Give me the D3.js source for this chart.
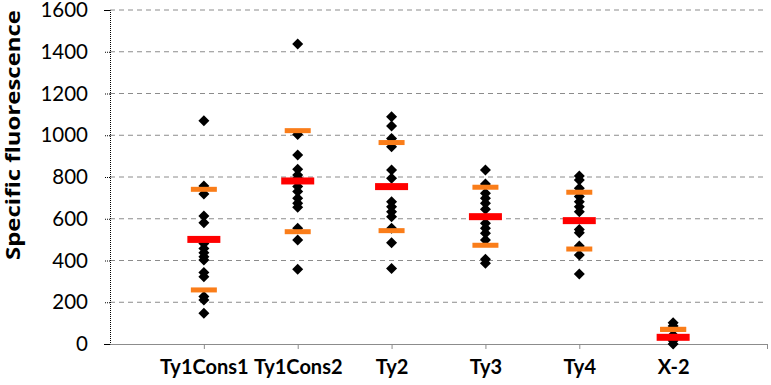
<!DOCTYPE html>
<html><head><meta charset="utf-8">
<script src="https://cdn.jsdelivr.net/npm/d3@7"></script>
<style>body{margin:0;background:#fff}</style>
</head><body>
<svg id="c" width="771" height="385"></svg>
<script>
const categories = ["Ty1Cons1","Ty1Cons2","Ty2","Ty3","Ty4","X-2"];
const points = [
  [1070,757,719,613,581,482,458,437,418,402,342,322,227,211,147],
  [1437,1004,905,837,810,794,754,730,698,674,655,554,498,358],
  [1089,1044,985,945,833,794,682,658,634,610,554,485,362],
  [833,766,722,698,674,645,578,554,530,498,406,387],
  [805,786,746,706,682,658,634,549,533,469,426,335],
  [102,86,43,16,0]
];
const means = [501,781,754,610,591,32];
const upper = [741,1022,965,751,727,70];
const lower = [259,538,543,473,455,70];
const yTicks = [0,200,400,600,800,1000,1200,1400,1600];
const yTitle = "Specific fluorescence";

const svg = d3.select("#c");
const x = d3.scaleLinear().domain([0,7]).range([110,767]);
const y = d3.scaleLinear().domain([0,1600]).range([344,10]);
const font = "Lato, 'Open Sans', sans-serif";

// gridlines
svg.append("g").selectAll("line").data(yTicks.filter(d=>d>0)).join("line")
  .attr("x1",x(0)).attr("x2",x(7)).attr("y1",d=>y(d)).attr("y2",d=>y(d))
  .attr("stroke","#8c8c8c").attr("stroke-width",1).attr("stroke-dasharray","5,4");

// y axis
const ya = svg.append("g").attr("transform",`translate(${x(0)},0)`)
  .call(d3.axisLeft(y).tickValues(yTicks).tickSize(6).tickPadding(16).tickFormat(d3.format("d")));
ya.select(".domain").attr("stroke","#000").attr("stroke-dasharray","1,1");
ya.selectAll(".tick line").attr("stroke","#000").attr("stroke-dasharray","1,1");
ya.selectAll(".tick text").attr("font-family",font).attr("font-size",20.5).attr("fill","#000");

// x axis
const xa = svg.append("g").attr("transform",`translate(0,${y(0)})`)
  .call(d3.axisBottom(x).tickValues([1,2,3,4,5,6,7]).tickSize(5).tickSizeOuter(0)
    .tickFormat(d=>categories[d-1]||"").tickPadding(11));
xa.select(".domain").attr("stroke","#8c8c8c");
xa.selectAll(".tick line").attr("stroke","#8c8c8c");
xa.selectAll(".tick text").attr("font-family",font).attr("font-size",20).attr("font-weight","bold").attr("fill","#000");

// y title
svg.append("text").attr("transform",`translate(20,${135}) rotate(-90)`)
  .attr("text-anchor","middle").attr("font-family","'Open Sans', Lato, sans-serif").attr("font-size",19)
  .attr("font-weight","bold").attr("textLength",250).attr("lengthAdjust","spacingAndGlyphs").text(yTitle);

// points
const pts = [];
points.forEach((arr,i)=>arr.forEach(v=>pts.push({i,v})));
svg.append("g").selectAll("path").data(pts).join("path")
  .attr("d",d=>{const cx=x(d.i+1), cy=y(d.v), r=5.5; return `M${cx},${cy-r}L${cx+r},${cy}L${cx},${cy+r}L${cx-r},${cy}Z`;})
  .attr("fill","#000");

// orange bars
const ob = [];
upper.forEach((v,i)=>ob.push({i,v}));
lower.forEach((v,i)=>ob.push({i,v}));
svg.append("g").selectAll("rect").data(ob).join("rect")
  .attr("x",d=>x(d.i+1)-13).attr("width",26).attr("y",d=>y(d.v)-2.5).attr("height",5)
  .attr("fill","#fa7d19");

// red mean bars
svg.append("g").selectAll("rect").data(means).join("rect")
  .attr("x",(d,i)=>x(i+1)-16.5).attr("width",33).attr("y",d=>y(d)-3.5).attr("height",7)
  .attr("fill","#ff0000");
</script>
</body></html>
